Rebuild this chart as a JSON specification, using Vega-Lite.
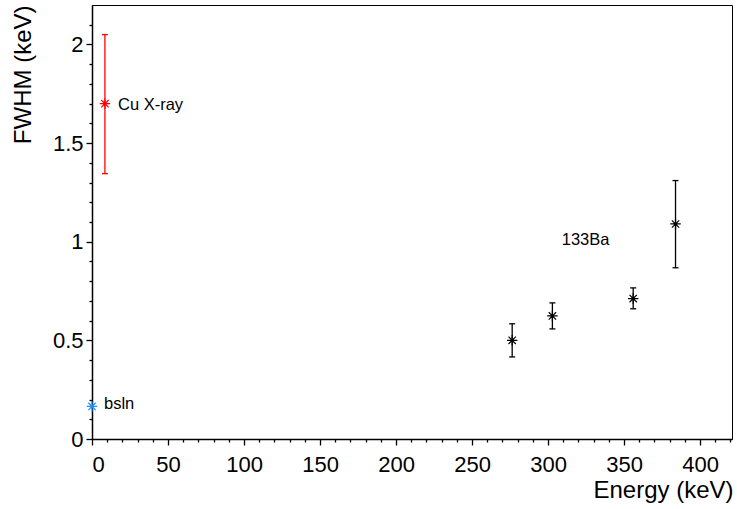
{
  "$schema": "https://vega.github.io/schema/vega-lite/v6.json",
  "width": 640,
  "height": 434,
  "autosize": "none",
  "padding": {"left": 92, "top": 5, "right": 5, "bottom": 70},
  "background": "white",
  "config": {
    "view": {"stroke": "black", "strokeWidth": 1},
    "font": "Liberation Sans",
    "axis": {
      "grid": false,
      "labelFont": "Liberation Sans",
      "labelFontSize": 22,
      "labelColor": "black",
      "titleFont": "Liberation Sans",
      "titleFontSize": 24,
      "titleFontWeight": "normal",
      "titleColor": "black",
      "domainColor": "black",
      "domainWidth": 1.5,
      "tickColor": "black",
      "tickWidth": 1.3
    }
  },
  "datasets": {
    "pts": [
      {"E": 0, "fwhm": 0.165, "lo": null, "hi": null, "src": "bsln"},
      {"E": 8.5, "fwhm": 1.70, "lo": 1.345, "hi": 2.05, "src": "Cu"},
      {"E": 276.4, "fwhm": 0.50, "lo": 0.416, "hi": 0.584, "src": "Ba"},
      {"E": 302.85, "fwhm": 0.624, "lo": 0.558, "hi": 0.69, "src": "Ba"},
      {"E": 356.0, "fwhm": 0.712, "lo": 0.66, "hi": 0.766, "src": "Ba"},
      {"E": 383.85, "fwhm": 1.09, "lo": 0.868, "hi": 1.31, "src": "Ba"}
    ],
    "labels": [
      {"E": 17.1, "fwhm": 1.666, "txt": "Cu X-ray"},
      {"E": 7.9, "fwhm": 0.152, "txt": "bsln"},
      {"E": 309, "fwhm": 0.982, "txt": "133Ba"}
    ]
  },
  "data": {"name": "pts"},
  "resolve": {"axis": {"x": "independent", "y": "independent"}, "scale": {"x": "shared", "y": "shared", "color": "shared"}},
  "layer": [
    {
      "transform": [{"filter": "datum.lo != null"}],
      "mark": {"type": "rule", "strokeWidth": 1.3},
      "encoding": {
        "x": {"field": "E", "type": "quantitative",
          "scale": {"domain": [0, 421], "nice": false, "zero": false},
          "axis": {"orient": "bottom", "values": [0, 50, 100, 150, 200, 250, 300, 350, 400], "format": "d", "tickSize": 6, "labelPadding": 9,
            "title": "Energy (keV)", "titleX": 641, "titleY": 58, "titleAlign": "right", "titleBaseline": "alphabetic", "titleAnchor": null}},
        "y": {"field": "lo", "type": "quantitative",
          "scale": {"domain": [0, 2.2], "nice": false, "zero": false},
          "axis": {"orient": "left", "values": [0, 0.5, 1, 1.5, 2], "format": "~g", "tickSize": 6, "labelPadding": 3,
            "title": "FWHM (keV)", "titleX": -62, "titleY": 0, "titleAngle": -90, "titleAlign": "right", "titleBaseline": "alphabetic"}},
        "y2": {"field": "hi"},
        "color": {"field": "src", "type": "nominal", "scale": {"domain": ["bsln", "Cu", "Ba"], "range": ["#1e90ff", "#ff0000", "#000000"]}, "legend": null}
      }
    },
    {
      "transform": [{"filter": "datum.lo != null"}],
      "mark": {"type": "point", "shape": "M-1,0L1,0", "size": 36, "filled": false, "strokeWidth": 1.3, "opacity": 1},
      "encoding": {
        "x": {"field": "E", "type": "quantitative",
          "axis": {"orient": "bottom", "values": [10, 20, 30, 40, 60, 70, 80, 90, 110, 120, 130, 140, 160, 170, 180, 190, 210, 220, 230, 240, 260, 270, 280, 290, 310, 320, 330, 340, 360, 370, 380, 390, 410, 420], "labels": false, "domain": false, "tickSize": 3, "title": null}},
        "y": {"field": "lo", "type": "quantitative",
          "axis": {"orient": "left", "values": [0.1, 0.2, 0.3, 0.4, 0.6, 0.7, 0.8, 0.9, 1.1, 1.2, 1.3, 1.4, 1.6, 1.7, 1.8, 1.9, 2.1], "labels": false, "domain": false, "tickSize": 3, "title": null}},
        "color": {"field": "src", "type": "nominal", "legend": null}
      }
    },
    {
      "transform": [{"filter": "datum.lo != null"}],
      "mark": {"type": "point", "shape": "M-1,0L1,0", "size": 36, "filled": false, "strokeWidth": 1.3, "opacity": 1},
      "encoding": {
        "x": {"field": "E", "type": "quantitative", "axis": null},
        "y": {"field": "hi", "type": "quantitative", "axis": null},
        "color": {"field": "src", "type": "nominal", "legend": null}
      }
    },
    {
      "mark": {"type": "point", "shape": "M-1,0L1,0M0,-1L0,1M-0.7,-0.7L0.7,0.7M-0.7,0.7L0.7,-0.7", "size": 110, "filled": false, "strokeWidth": 1.2, "opacity": 1},
      "encoding": {
        "x": {"field": "E", "type": "quantitative", "axis": null},
        "y": {"field": "fwhm", "type": "quantitative", "axis": null},
        "color": {"field": "src", "type": "nominal", "legend": null}
      }
    },
    {
      "mark": {"type": "point", "shape": "circle", "size": 12, "filled": true, "opacity": 1},
      "encoding": {
        "x": {"field": "E", "type": "quantitative", "axis": null},
        "y": {"field": "fwhm", "type": "quantitative", "axis": null},
        "color": {"field": "src", "type": "nominal", "legend": null}
      }
    },
    {
      "data": {"name": "labels"},
      "mark": {"type": "text", "align": "left", "baseline": "alphabetic", "fontSize": 16.5, "font": "Liberation Sans", "color": "black"},
      "encoding": {
        "x": {"field": "E", "type": "quantitative", "axis": null},
        "y": {"field": "fwhm", "type": "quantitative", "axis": null},
        "text": {"field": "txt"}
      }
    }
  ]
}
